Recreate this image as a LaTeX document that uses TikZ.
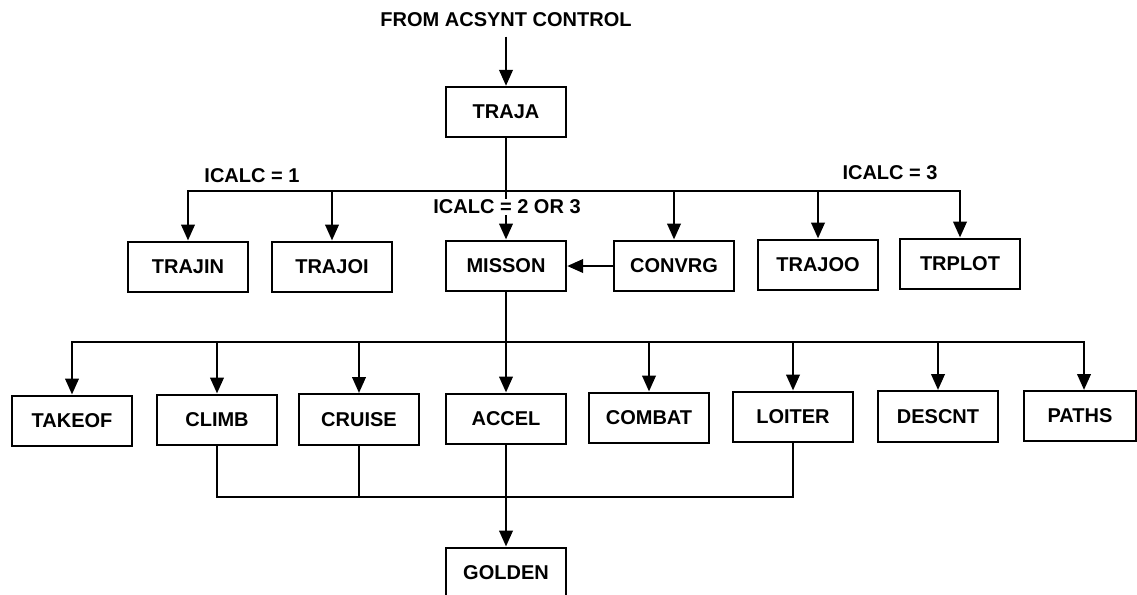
\documentclass[tikz,border=0pt]{standalone}
\usepackage{fontspec}
\setmainfont{Liberation Sans}
\usetikzlibrary{arrows.meta}
\tikzset{
  box/.style={draw, line width=1.7pt, minimum width=90pt, minimum height=38pt, inner sep=0pt, font=\fontsize{15}{17}\selectfont\bfseries},
  lbl/.style={inner sep=1pt, font=\fontsize{15}{17}\selectfont\bfseries},
  wire/.style={line width=2.1pt},
  arr/.style={line width=2.1pt, -{Triangle[length=12pt,width=10pt]}},
}
\begin{document}
\begin{tikzpicture}[x=0.75pt,y=-0.75pt]
\clip (0,0) rectangle (1137,594);
\useasboundingbox (0,0) rectangle (1137,594);
% named bus levels
\coordinate (b1) at (0,191);
\coordinate (b2) at (0,342);
\coordinate (b3) at (0,497);
% nodes
\node[lbl] (src) at (506,20) {FROM ACSYNT CONTROL};
\node[box, minimum height=37.5pt] (TRAJA) at (506,112) {TRAJA};
\node[box] (TRAJIN) at (188,267) {TRAJIN};
\node[box] (TRAJOI) at (332,267) {TRAJOI};
\node[box] (MISSON) at (506,266) {MISSON};
\node[box] (CONVRG) at (674,266) {CONVRG};
\node[box] (TRAJOO) at (818,265) {TRAJOO};
\node[box] (TRPLOT) at (960,264) {TRPLOT};
\node[box] (TAKEOF) at (72,421) {TAKEOF};
\node[box] (CLIMB) at (217,420) {CLIMB};
\node[box] (CRUISE) at (359,419.5) {CRUISE};
\node[box] (ACCEL) at (506,419) {ACCEL};
\node[box] (COMBAT) at (649,418) {COMBAT};
\node[box] (LOITER) at (793,417) {LOITER};
\node[box] (DESCNT) at (938,416.5) {DESCNT};
\node[box, minimum width=84pt] (PATHS) at (1080,416) {PATHS};
\coordinate (pathsin) at (1084,390);
\node[box] (GOLDEN) at (506,573) {GOLDEN};
% top level
\draw[arr] (src.south) ++(0,8) -- (TRAJA.north);
\draw[wire] (TRAJA.south) -- (TRAJA |- b1);
\draw[arr] (TRAJA |- b1) -| (TRAJIN.north);
\draw[arr] (TRAJA |- b1) -| (TRPLOT.north);
\draw[arr] (TRAJOI |- b1) -- (TRAJOI.north);
\draw[arr] (MISSON |- b1) -- (MISSON.north);
\draw[arr] (CONVRG |- b1) -- (CONVRG.north);
\draw[arr] (TRAJOO |- b1) -- (TRAJOO.north);
\draw[arr] (CONVRG.west) -- (MISSON.east);
% labels
\node[lbl] (l1) at (252,176) {ICALC = 1};
\node[lbl] (l3) at (890,173) {ICALC = 3};
\node[lbl, fill=white] (l2) at (507,207) {ICALC = 2 OR 3};
% mission level
\draw[arr] (MISSON.south) -- (ACCEL.north);
\draw[arr] (MISSON |- b2) -| (TAKEOF.north);
\draw[arr] (MISSON |- b2) -| (pathsin);
\draw[arr] (CLIMB |- b2) -- (CLIMB.north);
\draw[arr] (CRUISE |- b2) -- (CRUISE.north);
\draw[arr] (COMBAT |- b2) -- (COMBAT.north);
\draw[arr] (LOITER |- b2) -- (LOITER.north);
\draw[arr] (DESCNT |- b2) -- (DESCNT.north);
% golden level
\draw[wire] (CLIMB.south) |- (LOITER |- b3) -- (LOITER.south);
\draw[wire] (CRUISE.south) -- (CRUISE |- b3);
\draw[arr] (ACCEL.south) -- (GOLDEN.north);
\end{tikzpicture}
\end{document}
